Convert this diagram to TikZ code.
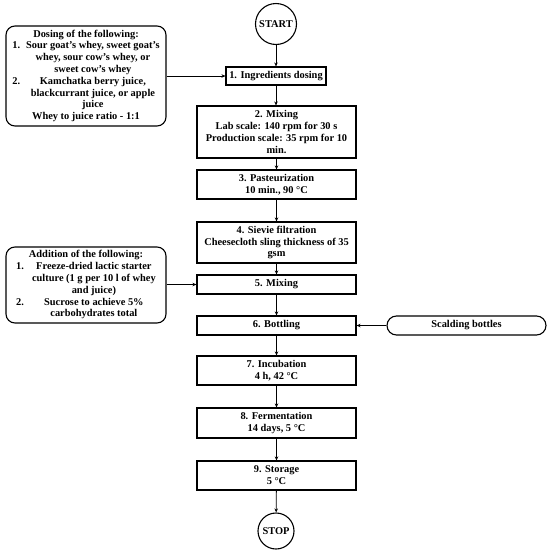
\documentclass[tikz,border=0pt]{standalone}
\usepackage{fontspec}
\setmainfont{Liberation Serif}
\usetikzlibrary{arrows.meta,shapes.misc}
\begin{document}
\begin{tikzpicture}[x=1pt,y=-1pt,
  every node/.style={font=\fontsize{10.4}{11.8}\selectfont\bfseries, inner sep=1pt, align=center},
  stepbox/.style={draw, line width=1.1pt, rectangle, minimum width=159pt},
  endcircle/.style={draw, line width=1.1pt, circle},
  sidebox/.style={draw, line width=1.1pt, rounded corners=9pt, minimum width=160pt},
  pill/.style={draw, line width=1.1pt, rounded rectangle, minimum width=161pt, minimum height=19pt},
  conn/.style={line width=0.8pt, -{Stealth[length=4pt,width=3.5pt]}}
]
\useasboundingbox (0,0) rectangle (550,555);
\node[endcircle, minimum size=41pt] (start) at (276,24) {START};
\node[stepbox, minimum width=100pt, minimum height=18pt] (n1) at (276,76) {1. Ingredients dosing};
\node[stepbox, minimum height=52pt] (n2) at (276.5,132) {2. Mixing\\Lab scale: 140 rpm for 30 s\\Production scale: 35 rpm for 10\\min.};
\node[stepbox, minimum height=29pt] (n3) at (276.5,184.5) {3. Pasteurization\\10 min., 90 °C};
\node[stepbox, minimum height=41pt] (n4) at (276.5,242.5) {4. Sievie filtration\\Cheesecloth sling thickness of 35\\gsm};
\node[stepbox, minimum height=19pt] (n5) at (276.5,284.5) {5. Mixing};
\node[stepbox, minimum height=19pt] (n6) at (276.5,325.5) {6. Bottling};
\node[stepbox, minimum height=29pt] (n7) at (276.5,370.5) {7. Incubation\\4 h, 42 °C};
\node[stepbox, minimum height=30pt] (n8) at (276.5,423) {8. Fermentation\\14 days, 5 °C};
\node[stepbox, minimum height=29pt] (n9) at (276.5,475.5) {9. Storage\\5 °C};
\node[endcircle, minimum size=36pt] (stop) at (276,531) {STOP};
\node[sidebox, minimum height=100pt] (s1) at (86,76) {%
\begin{tabular}{@{}l@{\hspace{6pt}}c@{}}
\multicolumn{2}{c}{Dosing of the following:}\\
1. & Sour goat's whey, sweet goat's\\
 & whey, sour cow's whey, or\\
 & sweet cow's whey\\
2. & Kamchatka berry juice,\\
 & blackcurrant juice, or apple\\
 & juice\\
\multicolumn{2}{c}{Whey to juice ratio - 1:1}
\end{tabular}};
\node[sidebox, minimum height=76pt] (s2) at (86,285) {%
\begin{tabular}{@{}l@{\hspace{8pt}}c@{}}
\multicolumn{2}{c}{Addition of the following:}\\
1. & Freeze-dried lactic starter\\
 & culture (1 g per 10 l of whey\\
 & and juice)\\
2. & Sucrose to achieve 5\%\\
 & carbohydrates total
\end{tabular}};
\node[pill] (sc) at (466.5,325.5) {Scalding bottles};
\draw[conn] (start) -- (n1);
\draw[conn] (n1) -- (n1 |- n2.north);
\draw[conn] (n2) -- (n3);
\draw[conn] (n3) -- (n4);
\draw[conn] (n4) -- (n5);
\draw[conn] (n5) -- (n6);
\draw[conn] (n6) -- (n7);
\draw[conn] (n7) -- (n8);
\draw[conn] (n8) -- (n9);
\draw[conn] (n9) -- (stop);
\draw[conn] (s1.east) -- (s1.east -| n1.west);
\draw[conn] (s2.east |- n5) -- (n5.west);
\draw[conn] (sc) -- (n6);
\end{tikzpicture}
\end{document}
